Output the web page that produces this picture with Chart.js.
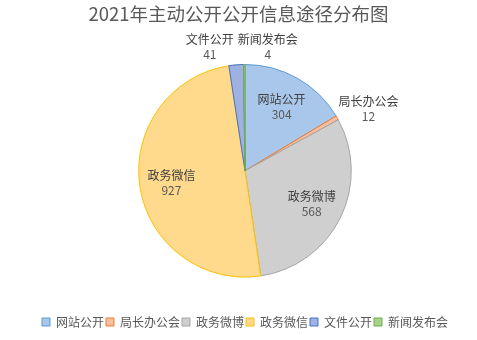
<!DOCTYPE html>
<html>
<head>
<meta charset="utf-8">
<script src="https://cdn.jsdelivr.net/npm/chart.js@4/dist/chart.umd.min.js"></script>
<style>
  html, body { margin: 0; padding: 0; background: #fff; }
  #wrap { width: 477px; height: 340px; }
</style>
</head>
<body>
<div id="wrap"><canvas id="chart"></canvas></div>
<script>
// chart data
var titleText = '2021年主动公开公开信息途径分布图';
var categories = ['网站公开', '局长办公会', '政务微博', '政务微信', '文件公开', '新闻发布会'];
var values = [304, 12, 568, 927, 41, 4];

var fillColors = ['#a9c7ea', '#f8c0a0', '#cfcfcf', '#ffd98c', '#9fb1e0', '#a9d18e'];
var lineColors = ['#5b9bd5', '#ed7d31', '#a5a5a5', '#ffc000', '#4472c4', '#70ad47'];

var FONT = '"Noto Sans CJK SC", "Noto Sans", sans-serif';

// title centred on the whole canvas (the pie itself sits a bit right of centre)
var canvasTitle = {
    id: 'canvasTitle',
    afterDraw: function (chart) {
        var ctx = chart.ctx;
        ctx.save();
        ctx.font = '18.5px ' + FONT;
        ctx.fillStyle = '#595959';
        ctx.textAlign = 'center';
        ctx.textBaseline = 'middle';
        ctx.fillText(titleText, chart.width / 2, 14);
        ctx.restore();
    }
};

// draws names and values on or next to each slice
var sliceLabels = {
    id: 'sliceLabels',
    afterDatasetsDraw: function (chart) {
        var ctx = chart.ctx;
        var meta = chart.getDatasetMeta(0);
        var total = values.reduce(function (a, b) { return a + b; }, 0);
        var outside = [];

        ctx.save();
        ctx.font = '12px ' + FONT;
        ctx.textAlign = 'center';
        ctx.textBaseline = 'middle';

        meta.data.forEach(function (arc, i) {
            var mid = (arc.startAngle + arc.endAngle) / 2;
            var share = values[i] / total;
            var w = ctx.measureText(categories[i]).width;
            if (share > 0.1) {
                var r = arc.outerRadius * 0.7;
                drawLabel(ctx, i, arc.x + Math.cos(mid) * r, arc.y + Math.sin(mid) * r);
            } else {
                // anchor just outside the rim, block pushed outward by half its size
                var ro = arc.outerRadius + 4;
                outside.push({
                    i: i,
                    x: arc.x + Math.cos(mid) * (ro + 2 + w / 2),
                    y: arc.y + Math.sin(mid) * (ro + 14),
                    w: w
                });
            }
        });

        // push apart outside labels that overlap
        for (var a = 0; a < outside.length; a++) {
            for (var b = a + 1; b < outside.length; b++) {
                var p = outside[a], q = outside[b];
                if (Math.abs(p.y - q.y) > 30) continue;
                var need = (p.w + q.w) / 2 + 4;
                var gap = Math.abs(p.x - q.x);
                if (gap < need) {
                    var push = (need - gap) / 2;
                    if (p.x <= q.x) { p.x -= push; q.x += push; }
                    else { p.x += push; q.x -= push; }
                }
            }
        }
        outside.forEach(function (o) { drawLabel(ctx, o.i, o.x, o.y); });
        ctx.restore();
    }
};

function drawLabel(ctx, i, x, y) {
    ctx.fillStyle = '#404040';
    ctx.fillText(categories[i], x, y - 7);
    ctx.fillStyle = '#595959';
    ctx.fillText(String(values[i]), x, y + 8);
}

var chart = new Chart(document.getElementById('chart'), {
    type: 'pie',
    data: {
        labels: categories,
        datasets: [{
            data: values,
            backgroundColor: fillColors,
            borderColor: lineColors,
            borderWidth: 1
        }]
    },
    options: {
        responsive: true,
        maintainAspectRatio: false,
        animation: false,
        layout: { padding: { top: 64, bottom: 2, left: 13, right: 0 } },
        plugins: {
            title: { display: false },
            legend: {
                position: 'bottom',
                // empty legend title just opens a gap above the legend row
                title: {
                    display: true,
                    text: ' ',
                    font: { family: FONT, size: 12 },
                    padding: { top: 0, bottom: 22 }
                },
                labels: {
                    color: '#595959',
                    font: { family: FONT, size: 12 },
                    boxWidth: 8,
                    boxHeight: 8,
                    padding: 2
                }
            },
            tooltip: { enabled: false }
        }
    },
    plugins: [sliceLabels, canvasTitle]
});
</script>
</body>
</html>
